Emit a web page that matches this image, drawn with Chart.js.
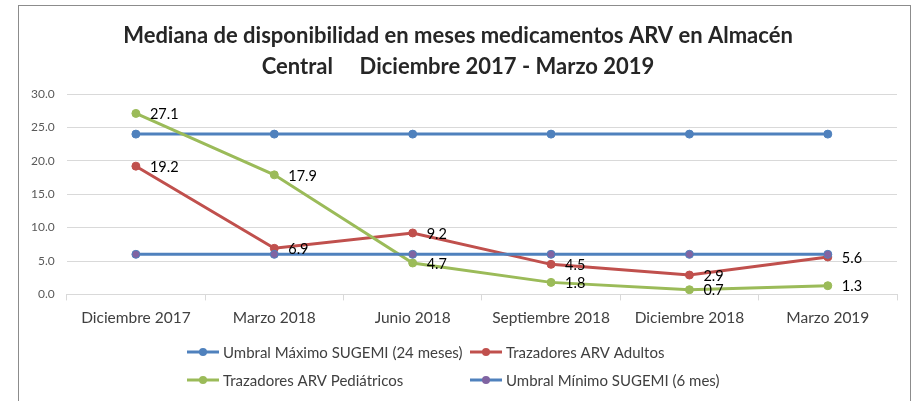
<!DOCTYPE html>
<html>
<head>
<meta charset="utf-8">
<script src="https://cdn.jsdelivr.net/npm/chart.js@4.4.1/dist/chart.umd.min.js"></script>
<style>
    html, body { margin: 0; padding: 0; background: #fff; overflow: hidden; }
    #frame { position: absolute; left: 18px; top: 5px; width: 893px; height: 430px; border: 1px solid #8c8c8c; box-sizing: border-box; }
    #chart { position: absolute; left: 19px; top: 6px; }
</style>
</head>
<body>
<div id="frame"></div>
<canvas id="chart" width="890" height="395"></canvas>
<script>
const periods = ['Diciembre 2017', 'Marzo 2018', 'Junio 2018', 'Septiembre 2018', 'Diciembre 2018', 'Marzo 2019'];
const umbralMaximo = [24, 24, 24, 24, 24, 24];
const trazadoresAdultos = [19.2, 6.9, 9.2, 4.5, 2.9, 5.6];
const trazadoresPediatricos = [27.1, 17.9, 4.7, 1.8, 0.7, 1.3];
const umbralMinimo = [6, 6, 6, 6, 6, 6];

const FONT = 'Lato, "Open Sans", sans-serif';
Chart.defaults.font.family = FONT;

// Value labels to the right of each point (only the two tracer series)
const valueLabels = {
    id: 'valueLabels',
    afterDatasetsDraw(chart) {
        const ctx = chart.ctx;
        ctx.save();
        ctx.font = '14.5px ' + FONT;
        ctx.fillStyle = '#000000';
        ctx.textAlign = 'left';
        ctx.textBaseline = 'middle';
        chart.data.datasets.forEach((ds, i) => {
            if (!ds.showValues) return;
            chart.getDatasetMeta(i).data.forEach((pt, j) => {
                ctx.fillText(ds.data[j].toFixed(1), pt.x + 14, pt.y + 1);
            });
        });
        ctx.restore();
    }
};

// Legend laid out in two columns like the spreadsheet one
const gridLegend = {
    id: 'gridLegend',
    afterDraw(chart) {
        const ctx = chart.ctx;
        const cols = [168, 451];
        const rows = [346, 374];
        ctx.save();
        ctx.font = '15px ' + FONT;
        ctx.textBaseline = 'middle';
        chart.data.datasets.forEach((ds, i) => {
            const x = cols[i % 2];
            const y = rows[Math.floor(i / 2)];
            ctx.strokeStyle = ds.borderColor;
            ctx.lineWidth = 3;
            ctx.beginPath();
            ctx.moveTo(x, y);
            ctx.lineTo(x + 32, y);
            ctx.stroke();
            ctx.fillStyle = ds.pointBackgroundColor;
            ctx.beginPath();
            ctx.arc(x + 16, y, 4, 0, Math.PI * 2);
            ctx.fill();
            ctx.fillStyle = '#404040';
            ctx.fillText(ds.label, x + 36, y + 1);
        });
        ctx.restore();
    }
};

function lineSeries(label, data, color, markerColor, order, showValues) {
    return {
        label: label,
        data: data,
        borderColor: color,
        backgroundColor: color,
        borderWidth: 3,
        pointRadius: 4,
        pointHoverRadius: 4,
        pointBackgroundColor: markerColor,
        pointBorderColor: color,
        pointBorderWidth: 1,
        tension: 0,
        order: order,
        showValues: showValues
    };
}

new Chart(document.getElementById('chart').getContext('2d'), {
    type: 'line',
    data: {
        labels: periods,
        datasets: [
            lineSeries('Umbral Máximo SUGEMI (24 meses)', umbralMaximo, '#4F81BD', '#4F81BD', 4, false),
            lineSeries('Trazadores ARV Adultos', trazadoresAdultos, '#C0504D', '#C0504D', 3, true),
            lineSeries('Trazadores ARV Pediátricos', trazadoresPediatricos, '#9BBB59', '#9BBB59', 2, true),
            lineSeries('Umbral Mínimo SUGEMI (6 mes)', umbralMinimo, '#4F81BD', '#8064A2', 1, false)
        ]
    },
    options: {
        responsive: false,
        animation: false,
        layout: { padding: { left: 0, right: 12, top: 0, bottom: 66 } },
        plugins: {
            legend: { display: false },
            tooltip: { enabled: false },
            title: {
                display: true,
                text: ['Mediana de disponibilidad en meses medicamentos ARV en Almacén', 'Central     Diciembre 2017 - Marzo 2019'],
                color: '#262626',
                font: { family: FONT, size: 22, weight: 'bold', lineHeight: 1.41 },
                padding: { top: 14, bottom: 12 }
            }
        },
        scales: {
            x: {
                offset: true,
                grid: { offset: true, drawOnChartArea: false, drawTicks: true, tickLength: 6, color: '#d9d9d9' },
                border: { color: '#d9d9d9', width: 1 },
                ticks: { color: '#404040', font: { size: 15.5 }, padding: 8, maxRotation: 0, autoSkip: false }
            },
            y: {
                min: 0,
                max: 30,
                grid: { color: '#d9d9d9', drawTicks: false },
                border: { display: false },
                ticks: { stepSize: 5, color: '#595959', font: { size: 12 }, padding: 12, callback: v => v.toFixed(1) }
            }
        }
    },
    plugins: [valueLabels, gridLegend]
});
</script>
</body>
</html>
